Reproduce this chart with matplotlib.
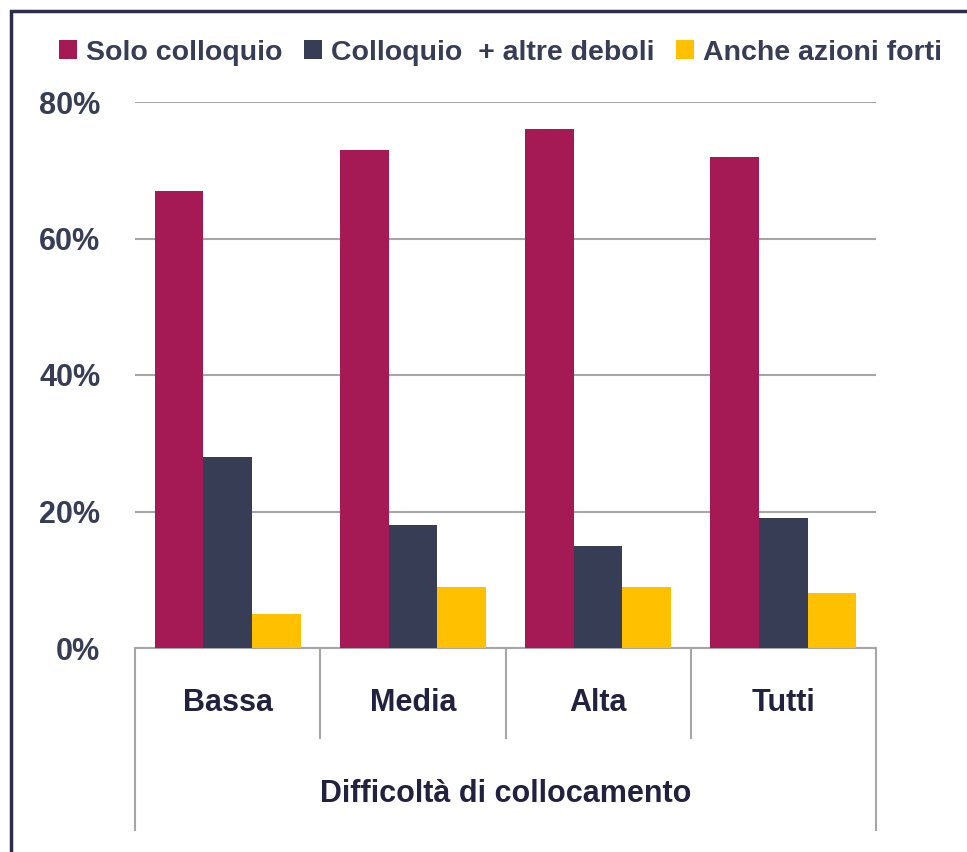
import matplotlib
matplotlib.use("Agg")
import matplotlib.pyplot as plt
from matplotlib.patches import Rectangle
from matplotlib.lines import Line2D

categories = ["Bassa", "Media", "Alta", "Tutti"]
series_names = ["Solo colloquio", "Colloquio  + altre deboli", "Anche azioni forti"]
solo_colloquio = [67, 73, 76, 72]
colloquio_deboli = [28, 18, 15, 19]
azioni_forti = [5, 9, 9, 8]
yticks = [0, 20, 40, 60, 80]
axis_title = "Difficoltà di collocamento"

colors = ["#A51955", "#383D56", "#FFC000"]
text_color = "#383D56"
label_color = "#22213F"
grid_color = "#A6A6A6"

plt.rcParams["font.family"] = ["Liberation Sans", "DejaVu Sans"]
plt.rcParams["font.weight"] = "bold"
fs = 22
leg_fs = 20.5

fig = plt.figure(figsize=(9.67, 8.52), dpi=100)
ax = fig.add_axes([135 / 967, (852 - 648) / 852, (876 - 135) / 967, 546 / 852])

width = 0.263
x = range(len(categories))
for i, (vals, name) in enumerate(zip([solo_colloquio, colloquio_deboli, azioni_forti], series_names)):
    ax.bar([k + (i - 1) * width for k in x], vals, width=width, color=colors[i],
           label=name, zorder=3)

ax.set_xlim(-0.5, len(categories) - 0.5)
ax.set_ylim(0, 80)
ax.set_yticks(yticks)
ax.set_yticklabels([f"{v}%" for v in yticks], fontsize=fs, color=text_color, fontweight="bold")
ax.tick_params(axis="y", length=0, pad=25)
ax.set_xticks([])
ax.grid(axis="y", color=grid_color, linewidth=1.5, zorder=0)
for s in ["top", "right", "left"]:
    ax.spines[s].set_visible(False)
ax.spines["bottom"].set_color(grid_color)
ax.spines["bottom"].set_linewidth(1.5)

# two-level category axis
trans = ax.get_xaxis_transform()
for b in range(len(categories) + 1):
    xb = b - 0.5
    outer = b in (0, len(categories))
    ax.add_line(Line2D([xb, xb], [0, -0.333 if outer else -0.165], transform=trans,
                       color=grid_color, linewidth=1.5, clip_on=False))
for k, cat in enumerate(categories):
    ax.text(k, -0.1, cat, transform=trans, ha="center", va="center",
            fontsize=fs, fontweight="bold", color=label_color)
ax.text((len(categories) - 1) / 2, -0.267, axis_title, transform=trans, ha="center",
        va="center", fontsize=fs, fontweight="bold", color=label_color)

leg = fig.legend(loc="center", bbox_to_anchor=(0.5176, 0.938), ncol=3, frameon=False,
                 fontsize=leg_fs, handlelength=0.63, handleheight=0.63, handletextpad=0.32,
                 columnspacing=0.74, borderaxespad=0)
for t in leg.get_texts():
    t.set_color(text_color)
    t.set_fontweight("bold")

# frame around the chart area
fig.patches.append(Rectangle((11 / 967, -0.1), 1.2, 1 - 11 / 852 + 0.1, transform=fig.transFigure,
                             fill=False, edgecolor="#2B2D4A", linewidth=2.5))

fig.savefig("out.png", dpi=100)
